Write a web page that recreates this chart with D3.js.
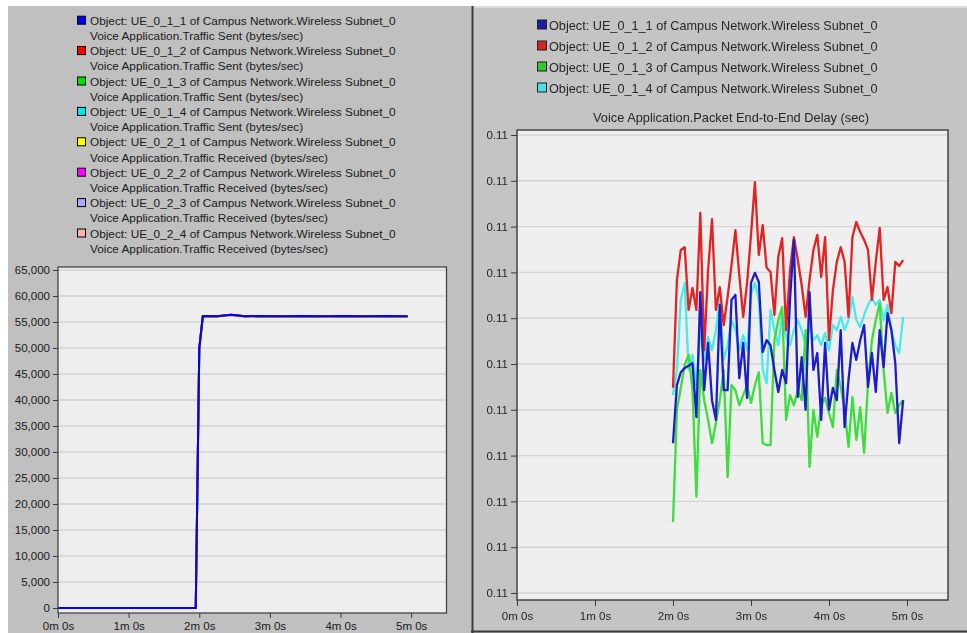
<!DOCTYPE html>
<html>
<head>
<meta charset="utf-8">
<script src="https://cdn.jsdelivr.net/npm/d3@7"></script>
<style>
  html, body { margin: 0; padding: 0; background: #ffffff; }
  svg { display: block; font-family: "Liberation Sans", Arial, sans-serif; }
</style>
</head>
<body>
<svg id="chart" width="967" height="633"></svg>
<script>
// ---------- Traffic panel (bytes/sec) ----------
const trafficObjects = [
  "Object: UE_0_1_1 of Campus Network.Wireless Subnet_0",
  "Object: UE_0_1_2 of Campus Network.Wireless Subnet_0",
  "Object: UE_0_1_3 of Campus Network.Wireless Subnet_0",
  "Object: UE_0_1_4 of Campus Network.Wireless Subnet_0",
  "Object: UE_0_2_1 of Campus Network.Wireless Subnet_0",
  "Object: UE_0_2_2 of Campus Network.Wireless Subnet_0",
  "Object: UE_0_2_3 of Campus Network.Wireless Subnet_0",
  "Object: UE_0_2_4 of Campus Network.Wireless Subnet_0"
];
const trafficMetrics = [
  "Voice Application.Traffic Sent (bytes/sec)",
  "Voice Application.Traffic Sent (bytes/sec)",
  "Voice Application.Traffic Sent (bytes/sec)",
  "Voice Application.Traffic Sent (bytes/sec)",
  "Voice Application.Traffic Received (bytes/sec)",
  "Voice Application.Traffic Received (bytes/sec)",
  "Voice Application.Traffic Received (bytes/sec)",
  "Voice Application.Traffic Received (bytes/sec)"
];
const trafficColors = ["#0000ff", "#ff0000", "#00e000", "#00e8e8", "#ffff00", "#ff00ff", "#a8a8ff", "#ffb0b0"];

// sample times in seconds
const trafficTime = [0, 15, 30, 45, 60, 75, 90, 105, 114, 117, 120, 123, 126, 135, 147, 159, 171, 183, 195, 207, 219, 231, 243, 255, 267, 279, 291, 297];
const trafficSent = [0, 0, 0, 0, 0, 0, 0, 0, 0, 0, 50000, 56100, 56150, 56100, 56400, 56100, 56150, 56100, 56100, 56150, 56100, 56100, 56150, 56100, 56100, 56150, 56100, 56100];
const trafficReceived = [0, 0, 0, 0, 0, 0, 0, 0, 0, 0, 49500, 56000, 56100, 56050, 56350, 56050, 56100, 56050, 56000, 56100, 56050, 55950, 56100, 56050, 55950, 56100, 56050, 55950];
const trafficYTicks = [0, 5000, 10000, 15000, 20000, 25000, 30000, 35000, 40000, 45000, 50000, 55000, 60000, 65000];

// shared time axis
const timeTicks = [0, 60, 120, 180, 240, 300];
const timeTickLabels = ["0m 0s", "1m 0s", "2m 0s", "3m 0s", "4m 0s", "5m 0s"];

// ---------- Delay panel (sec) ----------
const delayObjects = [
  "Object: UE_0_1_1 of Campus Network.Wireless Subnet_0",
  "Object: UE_0_1_2 of Campus Network.Wireless Subnet_0",
  "Object: UE_0_1_3 of Campus Network.Wireless Subnet_0",
  "Object: UE_0_1_4 of Campus Network.Wireless Subnet_0"
];
const delayTitle = "Voice Application.Packet End-to-End Delay (sec)";
const delayColors = ["#1e1ec8", "#e42222", "#3ade3a", "#48eaea"];
const delayLegendColors = ["#1a1aa8", "#d82020", "#30c830", "#40e4e4"];

const delayTime = [120, 123, 126, 129, 132, 135, 138, 141, 144, 147, 150, 153, 156, 159, 162, 165, 168, 171, 174, 177,
  180, 183, 186, 189, 192, 195, 198, 201, 204, 207, 210, 213, 216, 219, 222, 225, 228, 231, 234, 237,
  240, 243, 246, 249, 252, 255, 258, 261, 264, 267, 270, 273, 276, 279, 282, 285, 288, 291, 294, 297];

const delayUE011 = [0.110327, 0.110454, 0.110482, 0.110491, 0.110496, 0.110502, 0.110384, 0.110657, 0.110443, 0.110546,
  0.110421, 0.110378, 0.110629, 0.110443, 0.110443, 0.110640, 0.110651, 0.110469, 0.110546, 0.110426,
  0.110677, 0.110699, 0.110679, 0.110526, 0.110552, 0.110541, 0.110487, 0.110439, 0.110487, 0.110458,
  0.110640, 0.110771, 0.110428, 0.110515, 0.110400, 0.110657, 0.110487, 0.110524, 0.110378, 0.110546,
  0.110400, 0.110448, 0.110421, 0.110574, 0.110362, 0.110465, 0.110546, 0.110509, 0.110552, 0.110585,
  0.110450, 0.110524, 0.110439, 0.110574, 0.110493, 0.110611, 0.110574, 0.110502, 0.110327, 0.110421];

const delayUE012 = [0.110448, 0.110683, 0.110749, 0.110755, 0.110618, 0.110666, 0.110618, 0.110830, 0.110530, 0.110705,
  0.110816, 0.110618, 0.110668, 0.110585, 0.110646, 0.110716, 0.110792, 0.110694, 0.110603, 0.110677,
  0.110782, 0.110897, 0.110738, 0.110803, 0.110710, 0.110701, 0.110607, 0.110734, 0.110775, 0.110574,
  0.110705, 0.110777, 0.110727, 0.110672, 0.110603, 0.110683, 0.110749, 0.110782, 0.110690, 0.110777,
  0.110552, 0.110661, 0.110723, 0.110755, 0.110723, 0.110603, 0.110777, 0.110810, 0.110788, 0.110771,
  0.110749, 0.110640, 0.110723, 0.110797, 0.110640, 0.110668, 0.110611, 0.110723, 0.110714, 0.110727];

const delayUE013 = [0.110155, 0.110400, 0.110448, 0.110498, 0.110520, 0.110443, 0.110210, 0.110487, 0.110421, 0.110378,
  0.110327, 0.110371, 0.110421, 0.110487, 0.110253, 0.110454, 0.110443, 0.110410, 0.110432, 0.110454,
  0.110415, 0.110454, 0.110482, 0.110327, 0.110323, 0.110323, 0.110552, 0.110596, 0.110624, 0.110378,
  0.110432, 0.110410, 0.110443, 0.110421, 0.110574, 0.110275, 0.110400, 0.110341, 0.110410, 0.110426,
  0.110393, 0.110362, 0.110487, 0.110450, 0.110400, 0.110319, 0.110428, 0.110334, 0.110406, 0.110306,
  0.110458, 0.110552, 0.110596, 0.110633, 0.110487, 0.110393, 0.110437, 0.110393, 0.110410, 0.110421];

const delayUE014 = [0.110432, 0.110487, 0.110640, 0.110677, 0.110487, 0.110520, 0.110454, 0.110574, 0.110509, 0.110559,
  0.110530, 0.110574, 0.110640, 0.110509, 0.110541, 0.110596, 0.110574, 0.110530, 0.110563, 0.110530,
  0.110651, 0.110677, 0.110640, 0.110487, 0.110458, 0.110618, 0.110574, 0.110541, 0.110607, 0.110559,
  0.110541, 0.110574, 0.110596, 0.110574, 0.110541, 0.110585, 0.110552, 0.110563, 0.110541, 0.110568,
  0.110530, 0.110585, 0.110574, 0.110603, 0.110574, 0.110596, 0.110646, 0.110596, 0.110581, 0.110607,
  0.110629, 0.110644, 0.110629, 0.110640, 0.110596, 0.110629, 0.110574, 0.110541, 0.110524, 0.110603];

const delayYTicks = [0.1100, 0.1101, 0.1102, 0.1103, 0.1104, 0.1105, 0.1106, 0.1107, 0.1108, 0.1109, 0.1110];

// ---------- drawing ----------
const svg = d3.select("#chart");

// ===== left panel =====
svg.append("rect").attr("x", 8).attr("y", 6).attr("width", 463).attr("height", 627).attr("fill", "#c0c0c0");

const legL = svg.append("g").attr("font-size", 11.8).attr("fill", "#1a1a1a");
trafficObjects.forEach((name, i) => {
  const cy = 20.7 + i * 30.4;
  legL.append("rect").attr("x", 77.5).attr("y", cy - 4.5).attr("width", 8).attr("height", 8)
    .attr("fill", trafficColors[i]).attr("stroke", "#000").attr("stroke-width", 1);
  legL.append("text").attr("x", 90).attr("y", cy + 4).text(name);
  legL.append("text").attr("x", 90).attr("y", cy + 15.2 + 4).text(trafficMetrics[i]);
});

const xL = d3.scaleLinear().domain([0, 330]).range([58, 446.5]);
const yL = d3.scaleLinear().domain([-960, 65580]).range([613, 267]);

svg.append("rect").attr("x", 58).attr("y", 267).attr("width", 446.5 - 58).attr("height", 613 - 267).attr("fill", "#eeeeee");
svg.append("g").selectAll("line").data(trafficYTicks.slice(1)).join("line")
  .attr("x1", 58).attr("x2", 446.5).attr("y1", d => yL(d)).attr("y2", d => yL(d))
  .attr("stroke", "#d2d2d2").attr("stroke-width", 1.4);

const lineL = d3.line().x((d, i) => xL(trafficTime[i])).y(d => yL(d));
const trafficSeries = [trafficSent, trafficSent, trafficSent, trafficSent, trafficReceived, trafficReceived, trafficReceived, trafficReceived];
// drawn last-to-first so UE_0_1_1 ends on top
for (let i = 7; i >= 0; i--) {
  svg.append("path").datum(trafficSeries[i]).attr("d", lineL)
    .attr("fill", "none").attr("stroke", trafficColors[i]).attr("stroke-width", 2);
}

svg.append("rect").attr("x", 58).attr("y", 267).attr("width", 446.5 - 58).attr("height", 613 - 267)
  .attr("fill", "none").attr("stroke", "#3a3a3a").attr("stroke-width", 1.2);

const axLy = svg.append("g").attr("transform", "translate(58,0)")
  .call(d3.axisLeft(yL).tickValues(trafficYTicks).tickFormat(d3.format(",")).tickSize(5).tickPadding(3));
const axLx = svg.append("g").attr("transform", "translate(0,613)")
  .call(d3.axisBottom(xL).tickValues(timeTicks).tickFormat((d, i) => timeTickLabels[i]).tickSize(5).tickPadding(4));
[axLy, axLx].forEach(a => {
  a.select(".domain").remove();
  a.selectAll(".tick line").attr("stroke", "#3a3a3a");
  a.selectAll(".tick text").attr("font-size", 11.5).attr("fill", "#1a1a1a").attr("font-family", "Liberation Sans, Arial, sans-serif");
});

// ===== right panel =====
svg.append("rect").attr("x", 471).attr("y", 6).attr("width", 496).attr("height", 627).attr("fill", "#c4c4c4");
svg.append("line").attr("x1", 472.5).attr("x2", 472.5).attr("y1", 6).attr("y2", 633).attr("stroke", "#3c3c3c").attr("stroke-width", 2);
svg.append("line").attr("x1", 471).attr("x2", 967).attr("y1", 631.5).attr("y2", 631.5).attr("stroke", "#3c3c3c").attr("stroke-width", 2);
svg.append("line").attr("x1", 474).attr("x2", 967).attr("y1", 7).attr("y2", 7).attr("stroke", "#dcdcdc").attr("stroke-width", 2);

const soft = svg.append("defs").append("filter").attr("id", "soft");
soft.append("feGaussianBlur").attr("stdDeviation", 0.5);

const legR = svg.append("g").attr("font-size", 12.7).attr("fill", "#262626").attr("filter", "url(#soft)");
delayObjects.forEach((name, i) => {
  const cy = 25 + i * 21;
  legR.append("rect").attr("x", 537.5).attr("y", cy - 5).attr("width", 9).attr("height", 9)
    .attr("fill", delayLegendColors[i]).attr("stroke", "#202020").attr("stroke-width", 1);
  legR.append("text").attr("x", 549).attr("y", cy + 4.5).text(name);
});
svg.append("text").attr("x", 731).attr("y", 122).attr("text-anchor", "middle")
  .attr("font-size", 12.8).attr("fill", "#262626").attr("filter", "url(#soft)").text(delayTitle);

const xR = d3.scaleLinear().domain([0, 330]).range([517, 946]);
const yR = d3.scaleLinear().domain([0.1099847, 0.1110109]).range([600, 130]);

svg.append("rect").attr("x", 517).attr("y", 130).attr("width", 948 - 517).attr("height", 470).attr("fill", "#efefef");
svg.append("g").selectAll("line").data(delayYTicks).join("line")
  .attr("x1", 517).attr("x2", 948).attr("y1", d => yR(d)).attr("y2", d => yR(d))
  .attr("stroke", "#d6d6d6").attr("stroke-width", 1.4);

const lineR = d3.line().x((d, i) => xR(delayTime[i])).y(d => yR(d));
const delaySeries = [delayUE011, delayUE012, delayUE013, delayUE014];
const drawOrder = [3, 2, 1, 0];
const gR = svg.append("g").attr("filter", "url(#soft)");
drawOrder.forEach(i => {
  gR.append("path").datum(delaySeries[i]).attr("d", lineR)
    .attr("fill", "none").attr("stroke", delayColors[i]).attr("stroke-width", 2.3)
    .attr("stroke-linejoin", "round");
});

svg.append("rect").attr("x", 517).attr("y", 130).attr("width", 948 - 517).attr("height", 470)
  .attr("fill", "none").attr("stroke", "#3a3a3a").attr("stroke-width", 1.4);

const axRy = svg.append("g").attr("transform", "translate(517,0)")
  .call(d3.axisLeft(yR).tickValues(delayYTicks).tickFormat(d3.format(".2f")).tickSize(6).tickPadding(3));
const axRx = svg.append("g").attr("transform", "translate(0,600)")
  .call(d3.axisBottom(xR).tickValues(timeTicks).tickFormat((d, i) => timeTickLabels[i]).tickSize(6).tickPadding(6));
[axRy, axRx].forEach(a => {
  a.select(".domain").remove();
  a.attr("filter", "url(#soft)");
  a.selectAll(".tick line").attr("stroke", "#3a3a3a");
  a.selectAll(".tick text").attr("font-size", 11.5).attr("fill", "#262626").attr("font-family", "Liberation Sans, Arial, sans-serif");
});
</script>
</body>
</html>
